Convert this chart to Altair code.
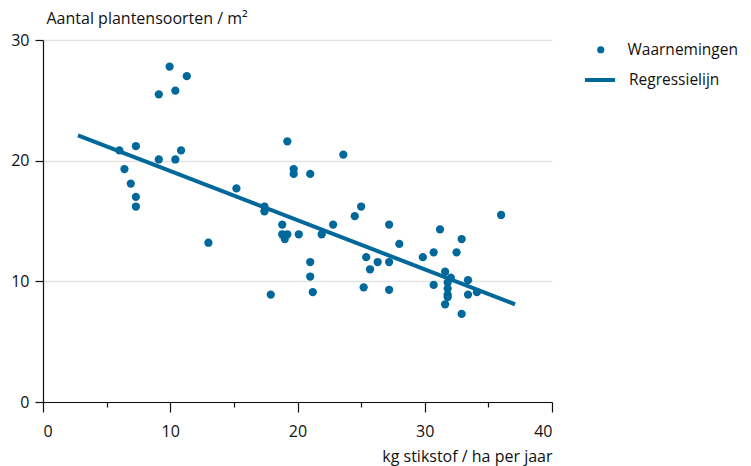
import altair as alt
import pandas as pd

# Observations: nitrogen deposition (kg N / ha per year) vs. plant species per m2
stikstof = [6.0, 6.4, 6.9, 7.3, 7.3, 7.3,
            9.1, 9.1, 9.95, 10.4, 10.4, 10.85, 11.3,
            13.0, 15.2, 17.4, 17.4, 17.9,
            18.8, 18.8, 19.0, 19.2, 19.2, 19.7, 19.7,
            20.1, 21.0, 21.0, 21.0, 21.2, 21.9, 22.8,
            23.6, 24.5, 25.0, 25.2, 25.4, 25.7, 26.3,
            27.2, 27.2, 27.2, 28.0, 29.85, 30.7, 30.7,
            31.2, 31.6, 31.6, 31.8, 31.8, 31.8, 31.8,
            32.05, 32.5, 32.9, 32.9, 33.4, 33.4, 34.1, 36.0]
soorten = [20.85, 19.3, 18.1, 21.2, 17.0, 16.2,
           25.5, 20.1, 27.8, 25.8, 20.1, 20.85, 27.0,
           13.2, 17.7, 16.2, 15.8, 8.9,
           14.7, 13.9, 13.5, 13.9, 21.6, 19.3, 18.9,
           13.9, 18.9, 11.6, 10.4, 9.1, 13.9, 14.7,
           20.5, 15.4, 16.2, 9.5, 12.0, 11.0, 11.6,
           11.6, 14.7, 9.3, 13.1, 12.0, 12.4, 9.7,
           14.3, 10.8, 8.1, 9.9, 9.4, 8.9, 8.7,
           10.3, 12.4, 13.5, 7.3, 10.1, 8.9, 9.1, 15.5]

# Regression line end points
lijn_x = [2.75, 37.1]
lijn_y = [22.1, 8.1]

x_ticks = [0, 5, 10, 15, 20, 25, 30, 35, 40]
y_ticks = [0, 10, 20, 30]

BLUE = "#01689B"
DARK = "#111111"
FONT = "Open Sans"
FS = 16

pts = pd.DataFrame({"x": stikstof, "y": soorten, "s": "Waarnemingen"})
lin = pd.DataFrame({"x": lijn_x, "y": lijn_y, "s": "Regressielijn"})

x_enc = alt.X(
    "x:Q",
    scale=alt.Scale(domain=[0, 40], nice=False, zero=False),
    axis=alt.Axis(
        values=x_ticks,
        labelExpr="datum.value % 10 === 0 ? datum.label : ''",
        tickSize={"condition": {"test": "datum.value % 10 === 0", "value": 10}, "value": 5},
        labelPadding=11,
        grid=False,
        title="kg stikstof / ha per jaar",
        titleX=509, titleY=59, titleAlign="right", titleBaseline="alphabetic",
        titleAnchor="end",
    ),
)
y_enc = alt.Y(
    "y:Q",
    scale=alt.Scale(domain=[0, 30], nice=False, zero=False),
    axis=alt.Axis(
        values=y_ticks,
        tickSize=8,
        labelPadding=6,
        grid=True,
        title="Aantal plantensoorten / m²",
        titleAngle=0, titleX=3, titleY=-17, titleAlign="left",
        titleBaseline="alphabetic",
    ),
)

points = alt.Chart(pts).mark_circle(size=68, opacity=1).encode(
    x=x_enc, y=y_enc,
    color=alt.Color("s:N", scale=alt.Scale(domain=["Waarnemingen"], range=[BLUE]),
                    legend=alt.Legend(title=None, orient="none", legendX=550, legendY=2,
                                      symbolType="circle", symbolSize=52,
                                      labelOffset=19)),
)

line = alt.Chart(lin).mark_line(strokeWidth=4).encode(
    x="x:Q", y="y:Q",
    stroke=alt.Stroke("s:N", scale=alt.Scale(domain=["Regressielijn"], range=[BLUE]),
                      legend=alt.Legend(title=None, orient="none", legendX=540, legendY=23,
                                        symbolType="stroke", symbolSize=900,
                                        symbolStrokeWidth=4, labelOffset=12)),
)

chart = (
    alt.layer(points, line)
    .resolve_scale(color="independent", stroke="independent")
    .properties(width=509, height=362,
                autosize=alt.AutoSizeParams(type="none"),
                padding={"left": 35, "top": 32, "right": 191, "bottom": 64})
    .configure_view(stroke=None)
    .configure_axis(
        labelFont=FONT, titleFont=FONT, labelFontSize=FS, titleFontSize=FS,
        labelColor=DARK, titleColor=DARK, titleFontWeight="normal",
        domainColor=DARK, tickColor=DARK, domainWidth=1.2, tickWidth=1.2,
        gridColor="#e2e2e2", gridWidth=1.5,
    )
    .configure_legend(labelFont=FONT, labelFontSize=15.5, labelColor=DARK)
)

chart.save("out.html", embed_options={"renderer": "svg", "actions": False})
